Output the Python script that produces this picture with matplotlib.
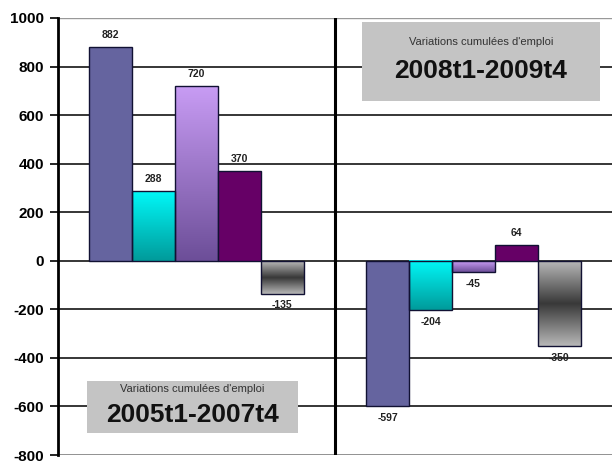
import numpy as np
import matplotlib.pyplot as plt
from matplotlib.colors import LinearSegmentedColormap
from matplotlib.ticker import FuncFormatter

plt.rcParams['font.family'] = ['Liberation Sans', 'DejaVu Sans']

# data
periodes = ["2005t1-2007t4", "2008t1-2009t4"]
serie_1 = [882, -597]
serie_2 = [288, -204]
serie_3 = [720, -45]
serie_4 = [370, 64]
serie_5 = [-135, -350]
labels_1 = ["882", "-597"]
labels_2 = ["288", "-204"]
labels_3 = ["720", "-45"]
labels_4 = ["370", "64"]
labels_5 = ["-135", "-350"]
sous_titre = "Variations cumulées d'emploi"

series = [serie_1, serie_2, serie_3, serie_4, serie_5]
labels = [labels_1, labels_2, labels_3, labels_4, labels_5]

fig = plt.figure(figsize=(6.12, 4.65), dpi=100)
ax = fig.add_axes([0.0948, 0.0215, 0.9052, 0.9398])

# gradient maps (top -> bottom)
cmaps = [
    None,
    LinearSegmentedColormap.from_list("cy", ["#00f8f8", "#009a9a"]),
    LinearSegmentedColormap.from_list("lv", ["#c89cf4", "#6c4e98"]),
    None,
    LinearSegmentedColormap.from_list("gr", ["#b8b8b8", "#383838", "#b8b8b8"]),
]
solid = ["#65649f", None, None, "#660066", None]

x = np.arange(len(periodes))
w = 0.155
for i, vals in enumerate(series):
    pos = x + (i - 2) * w
    bars = ax.bar(pos, vals, width=w, color=solid[i] or "none",
                  edgecolor="#111133", linewidth=1.0, zorder=3)
    if cmaps[i] is not None:
        for b in bars:
            x0, y0 = b.get_x(), b.get_y()
            bw, bh = b.get_width(), b.get_height()
            ylo, yhi = min(y0, y0 + bh), max(y0, y0 + bh)
            grad = np.linspace(0, 1, 256).reshape(-1, 1)
            ax.imshow(grad, cmap=cmaps[i], aspect="auto",
                      extent=[x0, x0 + bw, ylo, yhi], zorder=2.5,
                      interpolation="bilinear")
    for j, b in enumerate(bars):
        v = vals[j]
        txt = labels[i][j]
        if v >= 0:
            ax.text(b.get_x() + w / 2, v + 28, txt, ha="center", va="bottom",
                    fontsize=7.5, fontweight="bold", color="#222222", zorder=5)
        else:
            ax.text(b.get_x() + w / 2, v - 28, txt, ha="center", va="top",
                    fontsize=7.5, fontweight="bold", color="#222222", zorder=5)

ax.set_xlim(-0.5, 1.5)
ax.set_ylim(-800, 1000)
ax.set_yticks(np.arange(-800, 1001, 200))
ax.yaxis.set_major_formatter(FuncFormatter(lambda v, p: "%d" % v))
ax.set_xticks([])
for yv in np.arange(-600, 1000, 200):
    ax.axhline(yv, color="black", linewidth=1.1, zorder=1)
ax.axhline(1000, color="#999999", linewidth=1.0, zorder=1)
ax.axhline(-800, color="#888888", linewidth=2.0, zorder=1)
ax.axvline(0.5, color="black", linewidth=2.2, zorder=4)
ax.set_xlim(-0.5, 1.5)

for s in ["top", "right", "bottom"]:
    ax.spines[s].set_visible(False)
ax.spines["left"].set_linewidth(2.0)
ax.tick_params(axis="y", length=6, width=1.2, direction="out", labelsize=11,
               pad=4)
for t in ax.get_yticklabels():
    t.set_fontweight("bold")

# period boxes
def period_box(xc, y_sub, y_main, x0, y0, x1, y1, titre):
    ax.add_patch(plt.Rectangle((x0, y0), x1 - x0, y1 - y0, facecolor="#c4c4c4",
                               edgecolor="none", zorder=6))
    ax.text(xc, y_sub, sous_titre, ha="center", va="center", fontsize=8,
            color="#333333", zorder=7)
    ax.text(xc, y_main, titre, ha="center", va="center", fontsize=19,
            fontweight="bold", color="#111111", zorder=7)

period_box(1.027, 902, 780, 0.597, 658, 1.457, 984, periodes[1])
period_box(-0.014, -527, -637, -0.395, -710, 0.366, -494, periodes[0])

fig.savefig("out.png", dpi=100)
